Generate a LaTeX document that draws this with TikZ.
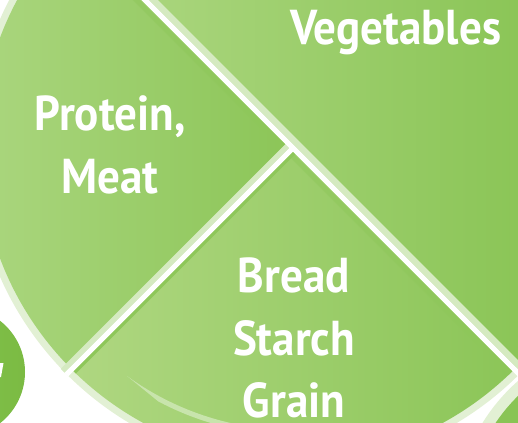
\documentclass[tikz,border=0pt]{standalone}
\usepackage{fontspec}
\usetikzlibrary{calc}
\newfontfamily\platefont{PT Sans}[FakeStretch=0.92]
\definecolor{LeafLight}{HTML}{A9D57C}
\definecolor{LeafDark}{HTML}{8BC557}
\definecolor{BreadLight}{HTML}{AFD781}
\definecolor{RimPale}{HTML}{E2F0D4}
\definecolor{BandPale}{HTML}{D5EAC1}
\definecolor{EdgeGreen}{HTML}{8EC75A}
\definecolor{DishLight}{HTML}{88C451}
\definecolor{DishDark}{HTML}{7BBB43}
\definecolor{Gloss}{HTML}{C8E4AC}

\begin{document}
\begin{tikzpicture}[x=1pt,y=-1pt,
    foodlabel/.style={font=\platefont\bfseries\fontsize{49}{62.5}\selectfont,text=white,align=center,inner sep=0pt}]
  \useasboundingbox (0,0) rectangle (518,422);
  \clip (0,0) rectangle (518,422);
  \coordinate (C) at (293,148);
  \coordinate (dA) at ($(C)+(-240,-240)$);
  \coordinate (dB) at ($(C)+(240,240)$);
  \coordinate (dE) at ($(C)+(-240,240)$);
  % side dishes
  \shade[left color=DishLight,right color=DishDark] (-40,372) circle (65);
  \fill[white] (0,363) -- (3.5,363) -- (1,377) -- (0,377) -- cycle;
  \fill[RimPale] (640,520) circle (185);
  \shade[left color=LeafDark,right color=DishDark] (640,520) circle (174);
  % plate
  \fill[RimPale] (C) circle (320);
  \begin{scope}
    \clip (C) circle (313);
    \begin{scope}
      \clip (dA) -- (dB) -- (dB |- dA) -- cycle;
      \shade[left color=LeafLight,right color=LeafDark] (150,-10) rectangle (520,430);
    \end{scope}
    \begin{scope}
      \clip (C) -- (dA) -- ($(C)+(-480,0)$) -- (dE) -- cycle;
      \shade[left color=LeafLight,right color=LeafDark] (-5,-10) rectangle (295,430);
    \end{scope}
    \begin{scope}
      \clip (C) -- (dE) -- ($(C)+(0,480)$) -- (dB) -- cycle;
      \shade[left color=BreadLight,right color=LeafDark] (70,140) rectangle (520,430);
    \end{scope}
    \draw[EdgeGreen,line width=3.5pt] ($(C)+(3,3)$) -- ($(dE)+(3,3)$);
    \draw[EdgeGreen,opacity=0.5,line width=5pt] ($(dA)+(-4.3,4.3)$) -- ($(dB)+(-4.3,4.3)$);
    % gloss on the plate
    \fill[Gloss] ($(C)+(126:282)$) arc[start angle=126,end angle=95,radius=282]
      -- ($(C)+(95:287)$) arc[start angle=95,end angle=118,radius=287] -- cycle;
  \end{scope}
  \begin{scope}
    \clip (C) circle (320.5);
    \draw[BandPale,line width=5.5pt] ($(C)+(-3.7,-3.7)$) -- ($(dE)+(-3.7,-3.7)$);
    \draw[white,line width=5pt] (C) -- (dE);
    \draw[BandPale,line width=6.5pt] ($(dA)+(4.1,-4.1)$) -- ($(dB)+(4.1,-4.1)$);
    \draw[white,line width=5pt] (dA) -- (dB);
  \end{scope}
  % labels
  \node[foodlabel,anchor=base] (veg) at (395.5,45) {Vegetables};
  \node[foodlabel] (meat) at (110,145) {Protein,\\Meat};
  \node[foodlabel] (grain) at (294,338) {Bread\\Starch\\Grain};
\end{tikzpicture}
\end{document}
